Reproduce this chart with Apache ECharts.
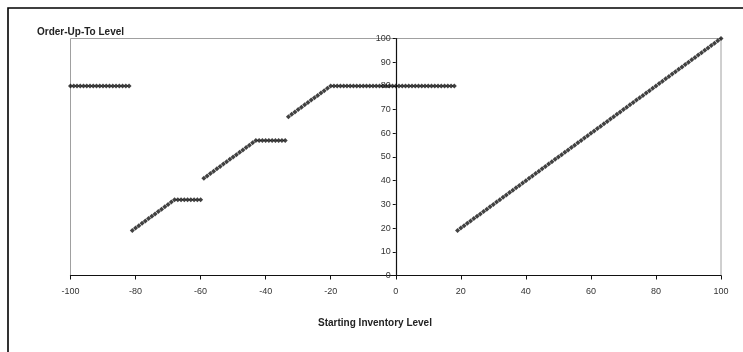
<!DOCTYPE html>
<html>
<head>
<meta charset="utf-8">
<script src="https://cdn.jsdelivr.net/npm/echarts@6/dist/echarts.min.js"></script>
<style>
html,body{margin:0;padding:0;background:#fff;}
#c{width:743px;height:352px;}
</style>
</head>
<body>
<div id="c"></div>
<script>
var xTicks = [-100, -80, -60, -40, -20, 0, 20, 40, 60, 80, 100];
var yTicks = [0, 10, 20, 30, 40, 50, 60, 70, 80, 90, 100];
var startingInventory = [
-100,-99,-98,-97,-96,-95,-94,-93,-92,-91,-90,-89,-88,-87,-86,-85,-84,-83,-82,-81,
-80,-79,-78,-77,-76,-75,-74,-73,-72,-71,-70,-69,-68,-67,-66,-65,-64,-63,-62,-61,
-60,-59,-58,-57,-56,-55,-54,-53,-52,-51,-50,-49,-48,-47,-46,-45,-44,-43,-42,-41,
-40,-39,-38,-37,-36,-35,-34,-33,-32,-31,-30,-29,-28,-27,-26,-25,-24,-23,-22,-21,
-20,-19,-18,-17,-16,-15,-14,-13,-12,-11,-10,-9,-8,-7,-6,-5,-4,-3,-2,-1,
0,1,2,3,4,5,6,7,8,9,10,11,12,13,14,15,16,17,18,19,
20,21,22,23,24,25,26,27,28,29,30,31,32,33,34,35,36,37,38,39,
40,41,42,43,44,45,46,47,48,49,50,51,52,53,54,55,56,57,58,59,
60,61,62,63,64,65,66,67,68,69,70,71,72,73,74,75,76,77,78,79,
80,81,82,83,84,85,86,87,88,89,90,91,92,93,94,95,96,97,98,99,
100
];
var orderUpTo = [
80,80,80,80,80,80,80,80,80,80,80,80,80,80,80,80,80,80,80,19,
20,21,22,23,24,25,26,27,28,29,30,31,32,32,32,32,32,32,32,32,
32,41,42,43,44,45,46,47,48,49,50,51,52,53,54,55,56,57,57,57,
57,57,57,57,57,57,57,67,68,69,70,71,72,73,74,75,76,77,78,79,
80,80,80,80,80,80,80,80,80,80,80,80,80,80,80,80,80,80,80,80,
80,80,80,80,80,80,80,80,80,80,80,80,80,80,80,80,80,80,80,19,
20,21,22,23,24,25,26,27,28,29,30,31,32,33,34,35,36,37,38,39,
40,41,42,43,44,45,46,47,48,49,50,51,52,53,54,55,56,57,58,59,
60,61,62,63,64,65,66,67,68,69,70,71,72,73,74,75,76,77,78,79,
80,81,82,83,84,85,86,87,88,89,90,91,92,93,94,95,96,97,98,99,
100
];
var yAxisTitle = 'Order-Up-To Level';
var xAxisTitle = 'Starting Inventory Level';

var pts = startingInventory.map(function (x, i) { return [x, orderUpTo[i]]; });
var font = 'Arial, "Liberation Sans", sans-serif';

var gridLeft = 70.5, gridRight = 22;
var gridWidth = 743 - gridLeft - gridRight;
var xMin = xTicks[0], xMax = xTicks[xTicks.length - 1];
var yAxisOffset = -gridWidth * (0 - xMin) / (xMax - xMin);

var chart = echarts.init(document.getElementById('c'), null, {renderer: 'canvas'});
chart.setOption({
  animation: false,
  backgroundColor: '#fff',
  grid: {
    left: gridLeft, right: gridRight, top: 38.5, bottom: 76.5,
    show: true, borderColor: '#a0a0a0', borderWidth: 1, backgroundColor: 'transparent'
  },
  xAxis: {
    type: 'value', min: xMin, max: xMax, interval: 20,
    axisLine: {show: true, onZero: false, lineStyle: {color: '#111', width: 1.2}},
    axisTick: {show: true, length: 4, inside: false, lineStyle: {color: '#111'}},
    axisLabel: {color: '#333', fontSize: 9, fontFamily: font, margin: 12},
    splitLine: {show: false}
  },
  yAxis: {
    type: 'value', min: yTicks[0], max: yTicks[yTicks.length - 1], interval: 10,
    position: 'left', offset: yAxisOffset,
    axisLine: {show: true, onZero: false, lineStyle: {color: '#111', width: 1.2}},
    axisTick: {show: true, length: 3, inside: false, lineStyle: {color: '#111'}},
    axisLabel: {color: '#333', fontSize: 9, fontFamily: font, margin: 5},
    splitLine: {show: false}
  },
  graphic: [
    {type: 'rect', shape: {x: 8, y: 8, width: 760, height: 400}, style: {fill: 'none', stroke: '#000', lineWidth: 1.6}, silent: true},
    {type: 'text', left: 37, top: 27, style: {text: yAxisTitle, fill: '#222', font: 'bold 10px ' + font}},
    {type: 'text', x: 375, y: 323, style: {text: xAxisTitle, fill: '#222', font: 'bold 10px ' + font, textAlign: 'center', textVerticalAlign: 'middle'}}
  ],
  series: [{
    type: 'scatter',
    data: pts,
    symbol: 'diamond',
    symbolSize: 5,
    itemStyle: {color: '#111'},
    z: 5
  }]
});
</script>
</body>
</html>
